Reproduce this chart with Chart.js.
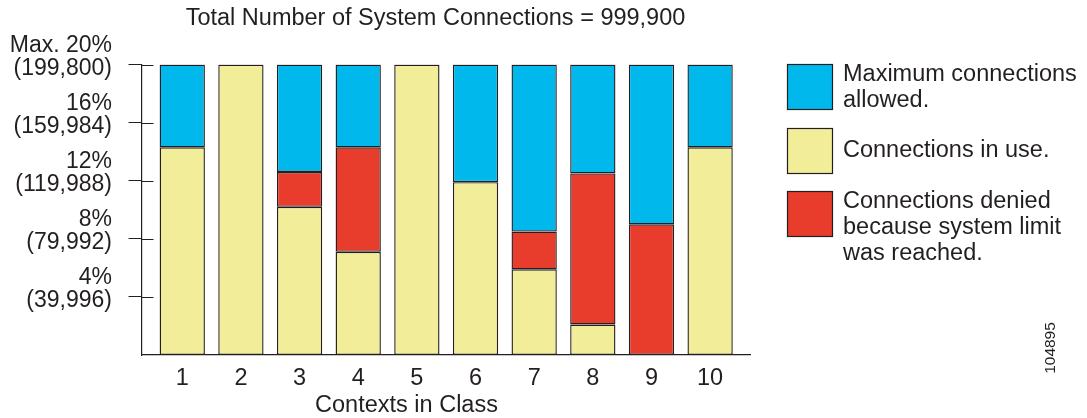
<!DOCTYPE html>
<html>
<head>
<meta charset="utf-8">
<script src="https://cdn.jsdelivr.net/npm/chart.js@4/dist/chart.umd.min.js"></script>
<style>
  html, body { margin: 0; padding: 0; background: #fff; }
  #wrap { width: 1087px; height: 418px; position: relative; }
</style>
</head>
<body>
<div id="wrap"><canvas id="connChart"></canvas></div>
<script>
// values, in percent of the system total (max 20%)
var categories = [1, 2, 3, 4, 5, 6, 7, 8, 9, 10];
var inUse   = [14.3, 20, 10.2, 7.1, 20, 11.9, 5.9, 2.1, 0, 14.3];
var denied  = [0, 0, 2.4, 7.2, 0, 0, 2.6, 10.4, 9.0, 0];
var allowed = [5.7, 0, 7.4, 5.7, 0, 8.1, 11.5, 7.5, 11.0, 5.7];

var yTicks = [4, 8, 12, 16, 20];
var yTickLabels = [
  ['4%', '(39,996)'],
  ['8%', '(79,992)'],
  ['12%', '(119,988)'],
  ['16%', '(159,984)'],
  ['Max. 20%', '(199,800)']
];

var chartTitle = 'Total Number of System Connections = 999,900';
var xTitle = 'Contexts in Class';
var figureId = '104895';

var legendAllowed = ['Maximum connections', 'allowed.'];
var legendInUse = ['Connections in use.'];
var legendDenied = ['Connections denied', 'because system limit', 'was reached.'];

var ink = '#231f20';
var family = "'Liberation Sans', Arial, Helvetica, sans-serif";
var fontSize = 23.5;

function points(values) {
  return values.map(function (v, i) { return { x: categories[i], y: v }; });
}

// title, axis title, legend, inner tick halves and the figure number
var extras = {
  id: 'extras',
  afterDraw: function (chart) {
    var ctx = chart.ctx;
    var yScale = chart.scales.y;
    var left = chart.chartArea.left;
    ctx.save();

    ctx.strokeStyle = ink;
    ctx.lineWidth = 1;
    yScale.ticks.forEach(function (t) {
      var py = Math.round(yScale.getPixelForValue(t.value)) + 0.5;
      ctx.beginPath();
      ctx.moveTo(left, py);
      ctx.lineTo(left + 12, py);
      ctx.stroke();
    });

    ctx.fillStyle = ink;
    ctx.font = fontSize + 'px ' + family;
    ctx.textAlign = 'center';
    ctx.textBaseline = 'middle';
    ctx.fillText(chartTitle, 435.5, 19);
    ctx.fillText(xTitle, 406.5, 406);

    // legend: blue, yellow, red
    var ds = chart.data.datasets;
    var order = [2, 0, 1];
    var boxTops = [64, 128, 191];
    ctx.textAlign = 'left';
    order.forEach(function (di, k) {
      var d = ds[di];
      var top = boxTops[k];
      ctx.fillStyle = d.backgroundColor;
      ctx.fillRect(787, top, 46, 46);
      ctx.strokeStyle = ink;
      ctx.lineWidth = 1.2;
      ctx.strokeRect(787.5, top + 0.5, 45, 45);
      ctx.fillStyle = ink;
      var lines = d.legendLines;
      var y0 = lines.length === 1 ? top + 23 : top + 11;
      lines.forEach(function (line, j) {
        ctx.fillText(line, 843, y0 + j * 26);
      });
    });

    ctx.translate(1051, 348);
    ctx.rotate(-Math.PI / 2);
    ctx.textAlign = 'center';
    ctx.font = '15.5px ' + family;
    ctx.fillText(figureId, 0, 0);
    ctx.restore();
  }
};

var ctx = document.getElementById('connChart').getContext('2d');
var chart = new Chart(ctx, {
  type: 'bar',
  data: {
    datasets: [{
      label: legendInUse.join(' '),
      legendLines: legendInUse,
      data: points(inUse),
      backgroundColor: '#f2ed98',
      borderColor: ink,
      borderWidth: 1.4,
      borderSkipped: false
    }, {
      label: legendDenied.join(' '),
      legendLines: legendDenied,
      data: points(denied),
      backgroundColor: '#e83c2c',
      borderColor: ink,
      borderWidth: 1.4,
      borderSkipped: false
    }, {
      label: legendAllowed.join(' '),
      legendLines: legendAllowed,
      data: points(allowed),
      backgroundColor: '#00b8ec',
      borderColor: ink,
      borderWidth: 1.4,
      borderSkipped: false
    }]
  },
  options: {
    responsive: true,
    maintainAspectRatio: false,
    animation: false,
    barPercentage: 0.772,
    categoryPercentage: 1,
    layout: { padding: { top: 64.5, right: 337, bottom: 0, left: 0 } },
    plugins: {
      legend: { display: false },
      title: { display: false },
      tooltip: { enabled: false }
    },
    scales: {
      x: {
        type: 'linear',
        stacked: true,
        offset: false,
        min: 0.305,
        max: 10.68,
        afterBuildTicks: function (s) {
          s.ticks = categories.map(function (c) { return { value: c }; });
        },
        afterFit: function (s) { s.height = 63; },
        grid: { display: false, drawTicks: false, offset: false },
        border: { display: true, color: ink, width: 1.2 },
        ticks: {
          padding: 9,
          color: ink,
          font: { family: family, size: fontSize },
          callback: function (v) { return String(v); }
        }
      },
      y: {
        stacked: true,
        min: 0,
        max: 20,
        afterBuildTicks: function (s) {
          s.ticks = yTicks.map(function (v) { return { value: v }; });
        },
        afterFit: function (s) { s.width = 141.5; },
        grid: { drawOnChartArea: false, drawTicks: true, tickLength: 13, color: ink },
        border: { display: true, color: ink, width: 1.2 },
        ticks: {
          padding: 16.5,
          labelOffset: 4,
          color: ink,
          font: { family: family, size: 23, lineHeight: 1.0 },
          callback: function (v) {
            var i = yTicks.indexOf(v);
            return i < 0 ? '' : yTickLabels[i].concat(['']);
          }
        }
      }
    }
  },
  plugins: [extras]
});
</script>
</body>
</html>
